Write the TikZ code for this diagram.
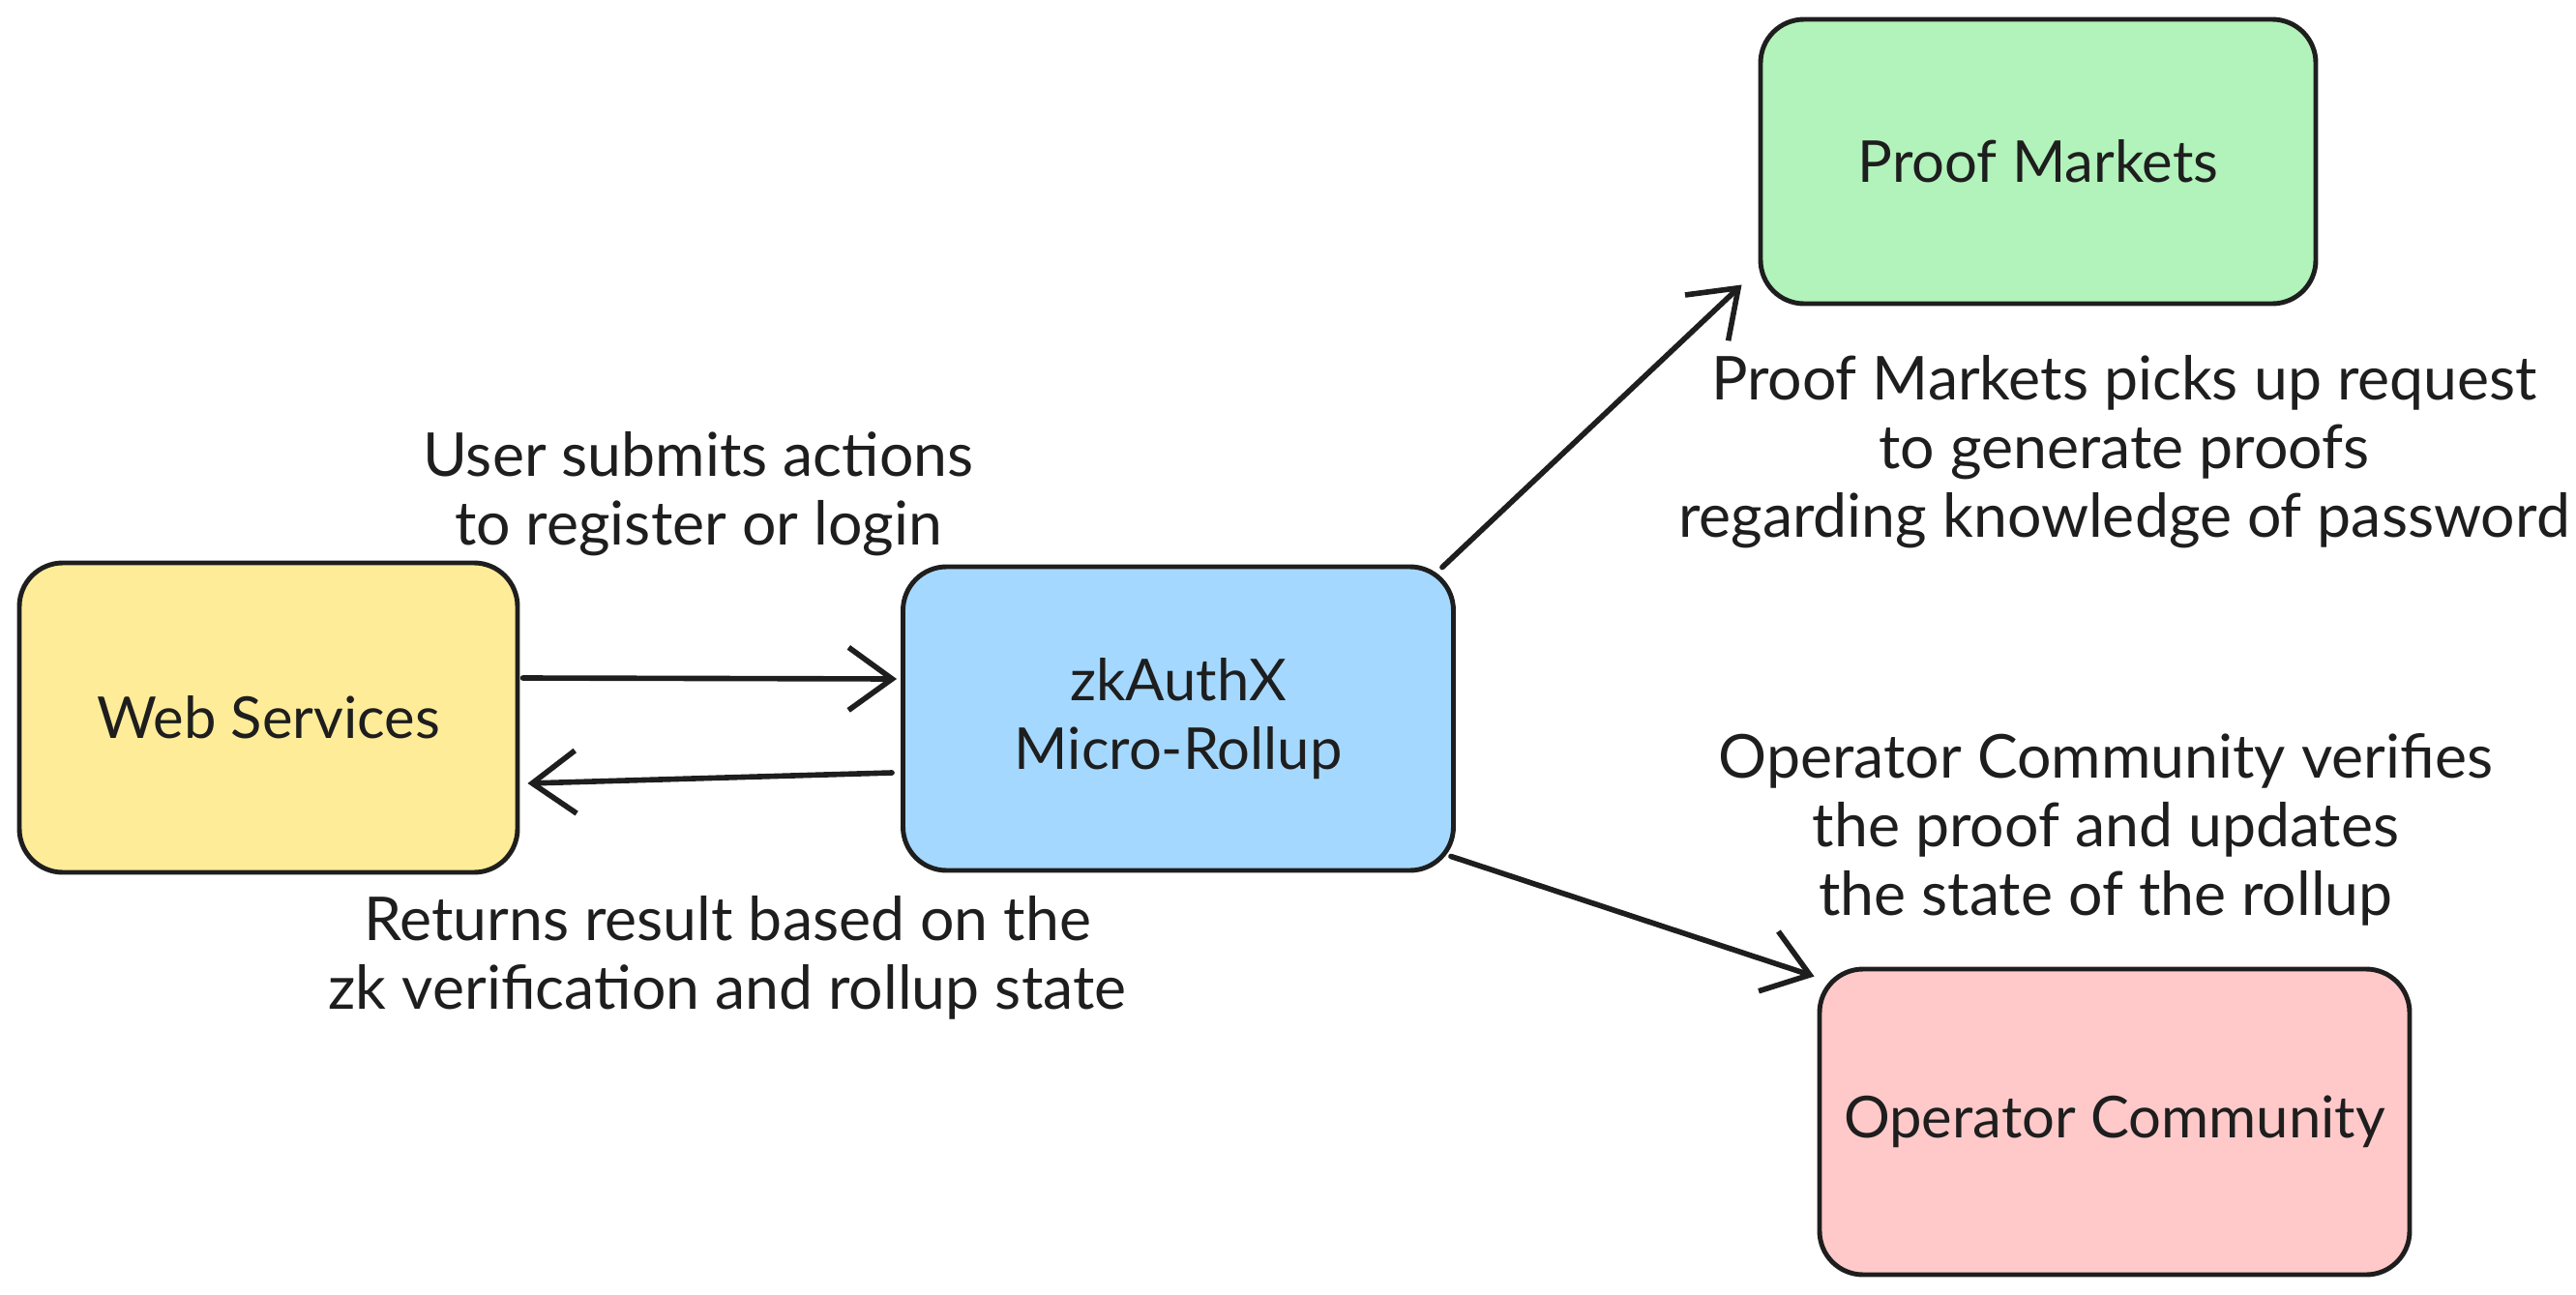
\documentclass[tikz,border=0pt]{standalone}
\usepackage{fontspec}
\setmainfont{Lato}
\usetikzlibrary{arrows.meta}
\definecolor{inkc}{HTML}{1E1E1E}
\definecolor{webc}{HTML}{FFEC99}
\definecolor{rollc}{HTML}{A5D8FF}
\definecolor{proofc}{HTML}{B2F2BB}
\definecolor{operc}{HTML}{FFC9C9}

\begin{document}
\begin{tikzpicture}[>={Straight Barb[length=4.5mm,width=6.5mm]},
  block/.style={draw=inkc, line width=1.4pt, rounded corners=0.45cm, align=center,
    inner sep=0pt, text=inkc, font=\fontsize{17}{20}\selectfont},
  lbl/.style={align=center, text=inkc, font=\fontsize{17.8}{20.2}\selectfont},
  flow/.style={->, draw=inkc, line width=1.6pt, line cap=round}]
  \useasboundingbox (0,0) rectangle (26.63,-13.39);

  % boxes
  \node[block, fill=webc, minimum width=5.15cm, minimum height=3.2cm] (web) at (2.775,-7.42) {Web Services};
  \node[block, fill=rollc, minimum width=5.69cm, minimum height=3.14cm] (roll) at (12.18,-7.43) {zkAuthX\\Micro-Rollup};
  \node[block, fill=proofc, minimum width=5.74cm, minimum height=2.94cm] (proof) at (21.07,-1.67) {Proof Markets};
  \node[block, fill=operc, minimum width=6.10cm, minimum height=3.16cm] (oper) at (21.86,-11.60) {Operator Community};

  % labels
  \node[lbl] (lsubmit) at (7.22,-5.11) {User submits actions\\to register or login};
  \node[lbl] (lreturn) at (7.52,-9.90) {Returns result based on the\\zk verification and rollup state};
  \node[lbl] (lproof) at (21.96,-4.67) {Proof Markets picks up request\\to generate proofs\\regarding knowledge of password};
  \node[lbl] (loper) at (21.77,-8.58) {Operator Community verifies\\the proof and updates\\the state of the rollup};

  % arrows
  \draw[flow] ([shift={(0.03,0.41)}]web.east) -- ([shift={(-0.04,0.41)}]roll.west);
  \draw[flow] ([shift={(-0.09,-0.56)}]roll.west) -- ([shift={(0.08,-0.68)}]web.east);
  \draw[flow] ([shift={(-0.14,-0.03)}]roll.north east) -- ([shift={(-0.17,0.22)}]proof.south west);
  \draw[flow] ([shift={(-0.05,0.17)}]roll.south east) -- ([shift={(-0.03,-0.10)}]oper.north west);
\end{tikzpicture}
\end{document}
